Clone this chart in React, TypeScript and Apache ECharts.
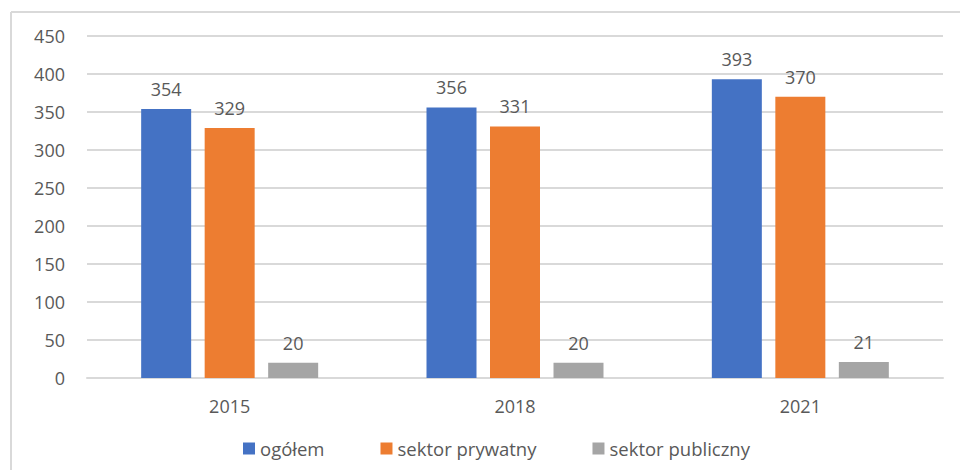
import React, { useEffect, useRef } from "react";
import * as echarts from "echarts";

const categories = ["2015", "2018", "2021"];
const ogolem = [354, 356, 393];
const prywatny = [329, 331, 370];
const publiczny = [20, 20, 21];
const seriesNames = ["ogółem", "sektor prywatny", "sektor publiczny"];
const colors = ["#4472C4", "#ED7D31", "#A5A5A5"];

const FONT = "'Open Sans', 'Noto Sans', sans-serif";
const TXT = "#595959";

export default function App() {
  const ref = useRef<HTMLDivElement>(null);
  useEffect(() => {
    if (!ref.current) return;
    const chart = echarts.init(ref.current, null, { renderer: "svg" });
    const mk = (name: string, data: number[], color: string) => ({
      name,
      type: "bar",
      data,
      barWidth: 50,
      barGap: "27%",
      itemStyle: { color },
      label: {
        show: true,
        position: "top",
        distance: 11,
        color: TXT,
        fontSize: 18,
        fontFamily: FONT,
      },
    });
    chart.setOption({
      animation: false,
      backgroundColor: "#ffffff",
      grid: { left: 87, right: 17, top: 36, bottom: 92 },
      graphic: [
        { type: "line", shape: { x1: 11, y1: 12, x2: 960, y2: 12 }, style: { stroke: "#d9d9d9", lineWidth: 2 } },
        { type: "line", shape: { x1: 11, y1: 12, x2: 11, y2: 470 }, style: { stroke: "#d9d9d9", lineWidth: 2 } },
      ],
      legend: {
        bottom: 12,
        left: 243,
        padding: 0,
        itemWidth: 12,
        itemHeight: 12,
        itemGap: 56,
        icon: "rect",
        textStyle: { color: TXT, fontSize: 18.5, fontFamily: FONT },
        data: seriesNames,
      },
      xAxis: {
        type: "category",
        data: categories,
        axisLine: { lineStyle: { color: "#d9d9d9", width: 2 } },
        axisTick: { show: false },
        axisLabel: { color: TXT, fontSize: 18, fontFamily: FONT, margin: 19 },
      },
      yAxis: {
        type: "value",
        min: 0,
        max: 450,
        interval: 50,
        axisLine: { show: false },
        axisTick: { show: false },
        splitLine: { lineStyle: { color: "#d9d9d9", width: 2 } },
        axisLabel: { color: TXT, fontSize: 18, fontFamily: FONT, margin: 22 },
      },
      series: [
        mk(seriesNames[0], ogolem, colors[0]),
        mk(seriesNames[1], prywatny, colors[1]),
        mk(seriesNames[2], publiczny, colors[2]),
      ],
    });
    return () => chart.dispose();
  }, []);
  return (
    <div
      ref={ref}
      style={{ position: "absolute", left: 0, top: 0, width: 960, height: 470 }}
    />
  );
}
